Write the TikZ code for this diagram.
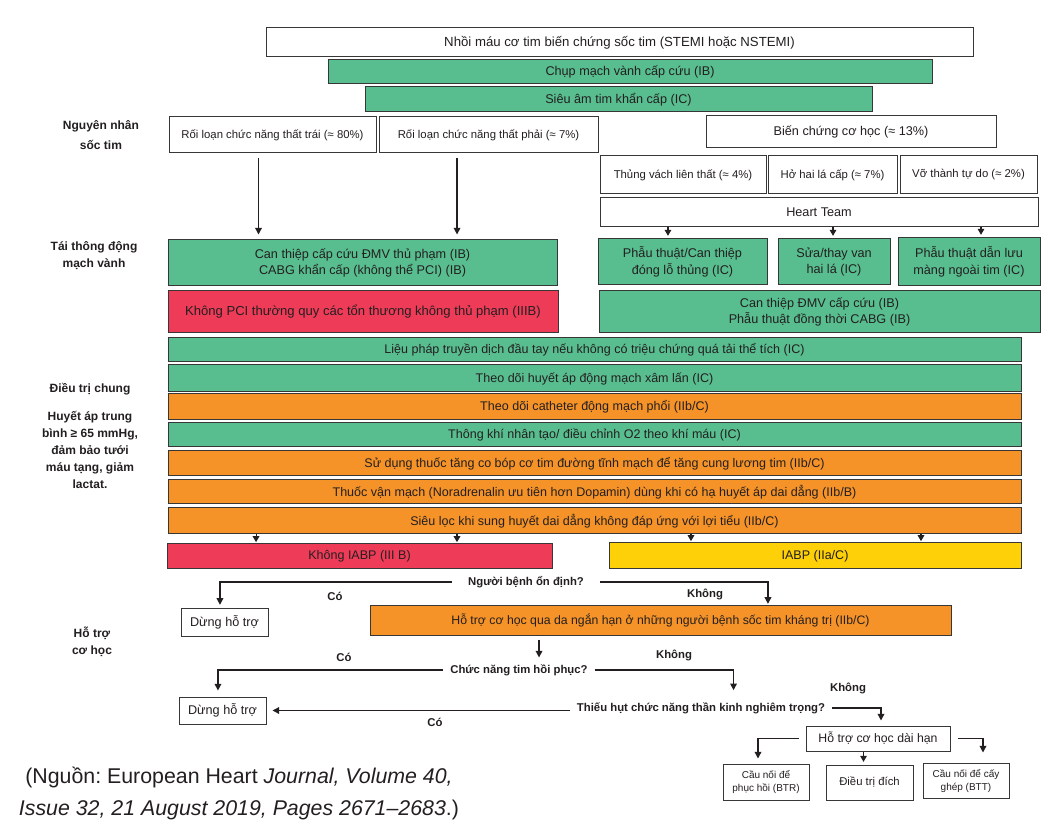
\documentclass[tikz,border=0pt]{standalone}
\usepackage{fontspec}
\setmainfont{Liberation Sans}
\usepackage{xcolor}
\usetikzlibrary{arrows.meta,calc}
\frenchspacing

\definecolor{ghigreen}{RGB}{88,190,143}
\definecolor{ghired}{RGB}{238,60,88}
\definecolor{ghiorange}{RGB}{245,146,40}
\definecolor{ghiyellow}{RGB}{253,208,8}
\definecolor{edgegray}{RGB}{55,55,55}
\definecolor{inkgray}{RGB}{35,31,32}

% a box given by its corners (in pixels of the reference): name, style, x1, y1, x2, y2, text
\newcommand{\BoxNode}[7]{%
  \node[#2, minimum width={(#5-#3)*0.75pt}, minimum height={(#6-#4)*0.75pt}]
    (#1) at ({(#3+#5)/2},{(#4+#6)/2}) {#7};}

\tikzset{
  base/.style={draw=edgegray, line width=0.75pt, inner sep=1pt, align=center,
    text=inkgray, font=\fontsize{9.5}{12.5}\selectfont},
  greenbox/.style={base, fill=ghigreen},
  redbox/.style={base, fill=ghired},
  orangebox/.style={base, fill=ghiorange},
  yellowbox/.style={base, fill=ghiyellow},
  whitebox/.style={base, fill=white},
  subtext/.style={font=\fontsize{8.5}{10}\selectfont},
  bartext/.style={font=\fontsize{9.4}{11}\selectfont},
  sidelabel/.style={align=center, text=inkgray, font=\bfseries\fontsize{9}{12.75}\selectfont},
  question/.style={inner xsep=5pt, inner ysep=2pt, text=inkgray, font=\bfseries\fontsize{8.5}{10}\selectfont},
  answer/.style={inner sep=1pt, text=inkgray, font=\bfseries\fontsize{8.5}{10}\selectfont},
  conn/.style={draw=inkgray, line width=1pt, -{Triangle[width=5pt,length=5pt]}},
  tick/.style={draw=inkgray, line width=0.8pt, -{Triangle[width=5pt,length=4.5pt]}},
}

\begin{document}
\begin{tikzpicture}[x=0.75pt, y=-0.75pt]
  \useasboundingbox (0,0) rectangle (1064,837);

  % top of the chart
  \BoxNode{ami}{whitebox, font=\fontsize{9.9}{12}\selectfont}{266}{28}{973}{57}{Nhồi máu cơ tim biến chứng sốc tim (STEMI hoặc NSTEMI)}
  \BoxNode{angio}{greenbox}{328}{60}{932}{84}{Chụp mạch vành cấp cứu (IB)}
  \BoxNode{echo}{greenbox}{365}{87}{872}{112}{Siêu âm tim khẩn cấp (IC)}

  % causes of the shock
  \BoxNode{lv}{whitebox, subtext}{169}{117}{376}{153}{Rối loạn chức năng thất trái (≈ 80\%)}
  \BoxNode{rv}{whitebox, subtext}{379}{117}{598}{153}{Rối loạn chức năng thất phải (≈ 7\%)}
  \BoxNode{mech}{whitebox}{706}{116}{996}{148}{Biến chứng cơ học (≈ 13\%)}
  \BoxNode{vsr}{whitebox, subtext}{600}{156}{766}{194}{Thủng vách liên thất (≈ 4\%)}
  \BoxNode{mr}{whitebox, subtext}{768}{156}{897}{194}{Hở hai lá cấp (≈ 7\%)}
  \BoxNode{fwr}{whitebox, subtext}{900}{156}{1037}{194}{Vỡ thành tự do (≈ 2\%)}
  \BoxNode{team}{whitebox}{600}{198}{1038}{227}{Heart Team}

  % revascularisation
  \BoxNode{pci}{greenbox}{168}{240}{557}{286}{Can thiệp cấp cứu ĐMV thủ phạm (IB)\\CABG khẩn cấp (không thể PCI) (IB)}
  \BoxNode{nopci}{redbox, font=\fontsize{9.8}{12}\selectfont}{168}{291}{558}{333}{Không PCI thường quy các tổn thương không thủ phạm (IIIB)}
  \BoxNode{vsrfix}{greenbox}{598}{239}{767}{285}{Phẫu thuật/Can thiệp\\đóng lỗ thủng (IC)}
  \BoxNode{mrfix}{greenbox}{778}{239}{890}{285}{Sửa/thay van\\hai lá (IC)}
  \BoxNode{fwrfix}{greenbox}{898}{238}{1040}{286}{Phẫu thuật dẫn lưu\\màng ngoài tim (IC)}
  \BoxNode{cabg}{greenbox}{599}{291}{1040}{333}{Can thiệp ĐMV cấp cứu (IB)\\Phẫu thuật đồng thời CABG (IB)}

  % general treatment, full width bars
  \BoxNode{bara}{greenbox, bartext}{168}{338}{1021}{362}{Liệu pháp truyền dịch đầu tay nếu không có triệu chứng quá tải thể tích (IC)}
  \BoxNode{barb}{greenbox, bartext}{168}{365}{1021}{392}{Theo dõi huyết áp động mạch xâm lấn (IC)}
  \BoxNode{barc}{orangebox, bartext}{168}{394}{1021}{420}{Theo dõi catheter động mạch phổi (IIb/C)}
  \BoxNode{bard}{greenbox, bartext}{168}{423}{1021}{447}{Thông khí nhân tạo/ điều chỉnh O2 theo khí máu (IC)}
  \BoxNode{bare}{orangebox, bartext}{168}{451}{1021}{476}{Sử dụng thuốc tăng co bóp cơ tim đường tĩnh mạch để tăng cung lương tim (IIb/C)}
  \BoxNode{barf}{orangebox, bartext}{168}{480}{1021}{504}{Thuốc vận mạch (Noradrenalin ưu tiên hơn Dopamin) dùng khi có hạ huyết áp dai dẳng (IIb/B)}
  \BoxNode{barg}{orangebox, bartext}{168}{508}{1021}{534}{Siêu lọc khi sung huyết dai dẳng không đáp ứng với lợi tiểu (IIb/C)}
  \BoxNode{noiabp}{redbox, bartext}{167}{544}{552}{569}{Không IABP (III B)}
  \BoxNode{iabp}{yellowbox, bartext}{609}{543}{1021}{569}{IABP (IIa/C)}

  % mechanical support
  \node[question, inner xsep=12pt] (q1) at (526,582) {Người bệnh ổn định?};
  \BoxNode{stopa}{whitebox}{181}{608}{268}{636}{Dừng hỗ trợ}
  \BoxNode{st}{orangebox, font=\fontsize{9.2}{11}\selectfont}{370}{605}{951}{635}{Hỗ trợ cơ học qua da ngắn hạn ở những người bệnh sốc tim kháng trị (IIb/C)}
  \node[question] (q2) at (519,670) {Chức năng tim hồi phục?};
  \BoxNode{stopb}{whitebox}{179}{697}{266}{724}{Dừng hỗ trợ}
  \node[question] (q3) at (701,708) {Thiếu hụt chức năng thần kinh nghiêm trọng?};
  \BoxNode{lt}{whitebox, font=\fontsize{9.2}{11}\selectfont}{806}{726}{950}{751}{Hỗ trợ cơ học dài hạn}
  \BoxNode{btr}{whitebox, font=\fontsize{7.5}{9.75}\selectfont}{723}{764}{809}{800}{Cầu nối để\\phục hồi (BTR)}
  \BoxNode{dich}{whitebox, font=\fontsize{8.5}{10}\selectfont}{826}{765}{913}{800}{Điều trị đích}
  \BoxNode{btt}{whitebox, font=\fontsize{7.5}{9.75}\selectfont}{923}{763}{1009}{798}{Cầu nối để cấy\\ghép (BTT)}

  % answers on the branches
  \node[answer] (ansa) at (335,596) {Có};
  \node[answer] (ansb) at (705,594) {Không};
  \node[answer] (ansc) at (344,657) {Có};
  \node[answer] (ansd) at (674,655) {Không};
  \node[answer] (anse) at (848,688) {Không};
  \node[answer] (ansf) at (435,722) {Có};

  % labels on the left side
  \node[sidelabel, font=\bfseries\fontsize{9}{15}\selectfont] (sidea) at (101,135) {Nguyên nhân\\sốc tim};
  \node[sidelabel] (sideb) at (94,256) {Tái thông động\\mạch vành};
  \node[sidelabel] (sidec) at (90,389) {Điều trị chung};
  \node[sidelabel] (sided) at (90,450) {Huyết áp trung\\bình ≥ 65 mmHg,\\đảm bảo tưới\\máu tạng, giảm\\lactat.};
  \node[sidelabel] (sidee) at (92,642) {Hỗ trợ\\cơ học};

  % source
  \node[align=center, text=inkgray, font=\fontsize{16}{24}\selectfont] (source) at (239,794)
    {(Nguồn: European Heart \textit{Journal, Volume 40,}\\\textit{Issue 32, 21 August 2019, Pages 2671–2683}.)};

  % arrows from the causes
  \draw[conn, shorten <=3.75pt, shorten >=3.75pt] ([xshift=-10.5pt]lv.south) -- ([xshift=-10.5pt]lv.south |- pci.north);
  \draw[conn, shorten <=3.75pt, shorten >=3.75pt] ([xshift=-23.6pt]rv.south) -- ([xshift=-23.6pt]rv.south |- pci.north);
  \draw[tick, shorten >=2pt] ([xshift=-10.9pt]vsrfix.north |- team.south) -- ([xshift=-10.9pt]vsrfix.north);
  \draw[tick, shorten >=2pt] ([xshift=-0.75pt]mrfix.north |- team.south) -- ([xshift=-0.75pt]mrfix.north);
  \draw[tick, shorten >=2pt] ([xshift=9pt]fwrfix.north |- team.south) -- ([xshift=9pt]fwrfix.north);

  % arrows into IABP boxes
  \draw[tick, shorten >=1pt] ([xshift=-77.6pt]noiabp.north |- barg.south) -- ([xshift=-77.6pt]noiabp.north);
  \draw[tick, shorten >=1pt] ([xshift=73.1pt]noiabp.north |- barg.south) -- ([xshift=73.1pt]noiabp.north);
  \draw[tick, shorten >=1pt] ([xshift=-93pt]iabp.north |- barg.south) -- ([xshift=-93pt]iabp.north);
  \draw[tick, shorten >=1pt] ([xshift=79.5pt]iabp.north |- barg.south) -- ([xshift=79.5pt]iabp.north);

  % decisions
  \draw[conn, shorten >=2pt] (q1.west) -| ([xshift=-3.4pt]stopa.north);
  \draw[conn, shorten >=0.5pt] (q1.east) -| ([xshift=80.6pt]st.north);
  \draw[conn, shorten <=3pt, shorten >=3pt] ([xshift=-91.1pt]st.south) -- ([xshift=-91.1pt]st.south |- q2.north);
  \draw[conn, shorten >=4.5pt] (q2.west) -| ([xshift=-3.4pt]stopb.north);
  \draw[conn, shorten >=7pt] (q2.east) -| ([xshift=24.4pt]q3.north);
  \draw[conn, shorten >=4.5pt] (stopb.east -| q3.west) -- (stopb.east);
  \draw[conn, shorten >=3.75pt] (q3.east) -| ([xshift=2.25pt]lt.north);
  \draw[conn, shorten <=5.25pt, shorten >=3.75pt] (lt.west) -| ([xshift=-6pt]btr.north);
  \draw[tick, shorten >=2pt] ([xshift=-4.5pt]dich.north |- lt.south) -- ([xshift=-4.5pt]dich.north);
  \draw[conn, shorten <=5.25pt, shorten >=7.5pt] (lt.east) -| ([xshift=12.75pt]btt.north);
\end{tikzpicture}
\end{document}
